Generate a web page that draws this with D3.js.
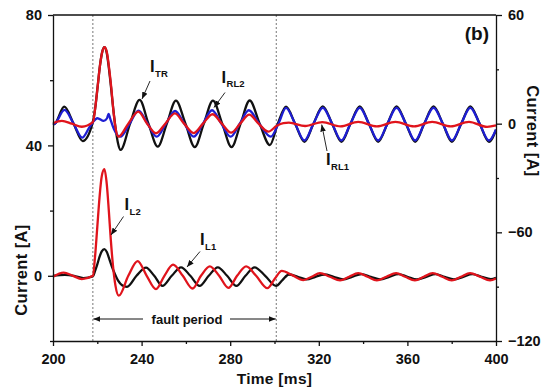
<!DOCTYPE html>
<html><head><meta charset="utf-8">
<script src="https://cdn.jsdelivr.net/npm/d3@7"></script>
<style>
body{margin:0;background:#fff}
text{font-family:"Liberation Sans",Arial,sans-serif;font-weight:bold;fill:#111}
</style>
</head><body><svg id="c" width="547" height="389"></svg>
<script>
// ---------- axis ticks ----------
const xTicks = [200, 240, 280, 320, 360, 400];
const xMinor = [220, 260, 300, 340, 380];
const leftTicks = [0, 40, 80];
const leftMinor = [-20, 20, 60];
const rightTicks = [-120, -60, 0, 60];
const rightMinor = [-90, -30, 30];
const faultBounds = [218, 300.8];

// ---------- upper group (right axis) : [time ms, current A] ----------
const iTR = [[200,-0.6],[200.9,0],[205.1,9.4],[209.3,0],[213.4,-9.6],[218,1],[219.2,10],[220.2,21],[221.2,32],[222.2,39.5],[223.2,42.2],[224.2,39.5],[225.2,31],[226.2,20],[227.3,7],[228.3,-3],[229.3,-10.5],[230.5,-14.5],[234.8,0],[239.1,13.1],[243.1,0],[247.3,-12.7],[251.4,0],[255.5,12.7],[259.8,0],[264,-12.9],[268.1,0],[272.2,12.7],[276.4,0],[280.6,-12.9],[284.7,0],[288.8,12.8],[293.3,0],[297.9,-11.8],[301.5,0],[305.2,9.4],[309.3,0],[313.5,-10],[317.6,0],[321.8,9.5],[326,0],[330.2,-10],[334.3,0],[338.5,9.5],[342.6,0],[346.8,-10],[351,0],[355.1,9.5],[359.3,0],[363.5,-10],[367.6,0],[371.8,9.5],[376,0],[380.1,-10],[384.3,0],[388.4,9.5],[392.6,0],[396.8,-10],[400,-3.5]];
const iRL2 = [[200,-0.6],[200.9,0],[205.2,7.6],[209.3,0],[213.2,-7.7],[216.2,-2.5],[218,0.8],[220,3.0],[222.9,1.5],[224.4,3],[225.1,5.4],[225.9,2.5],[227.5,-3],[230.4,-7.2],[234.6,0],[238.6,7.2],[242.7,0],[246.8,-7.2],[251,0],[255.1,7.0],[259.3,0],[263.5,-7.2],[267.7,0],[271.8,7.4],[276,0],[280.2,-7.2],[284.3,0],[288.4,7.4],[293.1,0],[298.3,-7.2],[301.8,0],[305.2,8.7],[309.3,0],[313.5,-9.3],[317.6,0],[321.8,8.8],[326,0],[330.2,-9.3],[334.3,0],[338.5,8.8],[342.6,0],[346.8,-9.3],[351,0],[355.1,8.8],[359.3,0],[363.5,-9.3],[367.6,0],[371.8,8.8],[376,0],[380.1,-9.3],[384.3,0],[388.4,8.8],[392.6,0],[396.8,-9.3],[400,-3.2]];
const iRL1 = [[200,0.2],[204,1.5],[208.5,0],[213,-1.7],[218,0.8],[219.2,10],[220.2,21],[221.2,32],[222.2,39.5],[223.3,42.2],[224.3,39.5],[225.3,31],[226.3,20],[227.2,8],[228.2,-2],[229.5,-7.2],[234,0],[238.5,6.6],[242.5,0],[246.5,-5.3],[250.7,0],[255,5.7],[259.2,0],[263.5,-5.2],[267.7,0],[272,5.2],[276.2,0],[280.4,-5],[284.5,0],[288.6,5],[292.8,0],[297.2,-4.4],[301,-1.2],[304,0.3],[306.5,0.6],[313.8,-1.3],[321.6,0.9],[329.8,-1.5],[337.8,1.0],[346.2,-1.5],[354.6,1.0],[363,-1.5],[371.2,1.0],[379.6,-1.5],[387.8,1.0],[396,-1.8],[400,-1]];

// ---------- lower group (left axis) ----------
const iL1 = [[200,0],[205.4,0.3],[209.5,0],[213.7,-0.7],[218,-0.2],[219,1.5],[220,3.5],[221,5.8],[222,7.5],[223.2,8.2],[224.3,7.3],[225.4,5.2],[226.5,3],[227.8,0.8],[229.4,-1.5],[231.2,-2.9],[233.4,-3.4],[237.7,0],[242,2.5],[245.7,0],[249.4,-3.1],[253.6,0],[257.8,2.6],[262,0],[266.2,-3.1],[270.3,0],[274.4,2.6],[278.6,0],[282.8,-3.1],[286.9,0],[291,2.6],[295.8,0],[300.7,-3.1],[303.6,-1.3],[306.5,0.4],[310.5,-0.3],[314.5,-1.1],[318.5,-0.3],[322.5,0.4],[326.7,-0.3],[331,-1.1],[335,-0.3],[339.3,0.5],[343.5,-0.3],[347.7,-1.1],[351.8,-0.3],[356,0.5],[360,-0.3],[364.3,-1.1],[368.5,-0.3],[372.7,0.5],[376.8,-0.3],[381,-1.1],[385.2,-0.3],[389.3,0.5],[393.5,-0.3],[397.7,-1.0],[400,-0.6]];
const iL2 = [[200,-0.3],[204.8,1.0],[209,0],[213,-1.0],[218,0],[219,6],[220,15],[221,24],[222,30.5],[223.2,32.7],[224.3,28],[225.2,20],[226.1,11],[227.1,3],[228.2,-3],[229.7,-6.1],[234,0],[238.2,4.5],[242.3,0],[246.5,-4.1],[250.3,0],[254.2,3.4],[258.6,0],[263,-3.9],[266.8,0],[270.8,2.9],[275,0],[279.2,-3.7],[283.1,0],[287.2,2.9],[291.7,0],[296.8,-3.8],[300.2,-0.8],[303.3,1.5],[308,0.2],[313,-1.3],[316.8,-0.3],[320.5,0.8],[325,-0.3],[329.6,-1.4],[333.7,-0.3],[337.8,0.8],[342,-0.3],[346.2,-1.4],[350.5,-0.3],[354.9,0.8],[359,-0.3],[363.4,-1.4],[367.4,-0.3],[371.4,0.8],[375.7,-0.3],[380,-1.4],[384.2,-0.3],[388.3,0.8],[392.8,-0.3],[397.3,-1.4],[400,-0.8]];

// ---------- drawing ----------
const svg = d3.select("#c");
const L = 53, R = 496, T = 15, B = 341;
const x = d3.scaleLinear().domain([200, 400]).range([L, R]);
const yL = d3.scaleLinear().domain([-20, 80]).range([B, T]);
const yR = d3.scaleLinear().domain([-120, 60]).range([B, T]);

const RED = "#e0141c", BLUE = "#1e1ed2", BLACK = "#111";

// dashed fault boundaries
svg.selectAll(".fb").data(faultBounds).join("line")
  .attr("x1", d => x(d)).attr("x2", d => x(d)).attr("y1", T).attr("y2", B)
  .attr("stroke", "#555").attr("stroke-width", 0.8).attr("stroke-dasharray", "2,2");

function drawLine(data, ys, color) {
  const line = d3.line().x(d => x(d[0])).y(d => ys(d[1])).curve(d3.curveMonotoneX);
  svg.append("path").datum(data).attr("d", line)
    .attr("fill", "none").attr("stroke", color).attr("stroke-width", 2.3)
    .attr("stroke-linejoin", "round");
}
drawLine(iTR, yR, BLACK);
drawLine(iRL2, yR, BLUE);
drawLine(iRL1, yR, RED);
drawLine(iL1, yL, BLACK);
drawLine(iL2, yL, RED);

// axes
function styleAxis(g) {
  g.selectAll("path,line").attr("stroke", "#111").attr("stroke-width", 1.3);
  g.selectAll("text").style("font-size", "14.5px").style("font-family", "'Liberation Sans',Arial,sans-serif").style("font-weight", "bold").attr("fill", "#111");
}
const gx = svg.append("g").attr("transform", `translate(0,${B})`)
  .call(d3.axisBottom(x).tickValues(xTicks).tickSize(5).tickSizeOuter(0).tickPadding(8).tickFormat(d3.format("d")));
styleAxis(gx);
const gxm = svg.append("g").attr("transform", `translate(0,${B})`)
  .call(d3.axisBottom(x).tickValues(xMinor).tickSize(3).tickSizeOuter(0).tickFormat(""));
styleAxis(gxm); gxm.select("path").remove();

const gl = svg.append("g").attr("transform", `translate(${L},0)`)
  .call(d3.axisLeft(yL).tickValues(leftTicks).tickSize(5).tickSizeOuter(0).tickPadding(6));
styleAxis(gl);
const glm = svg.append("g").attr("transform", `translate(${L},0)`)
  .call(d3.axisLeft(yL).tickValues(leftMinor).tickSize(3).tickSizeOuter(0).tickFormat(""));
styleAxis(glm); glm.select("path").remove();

const gr = svg.append("g").attr("transform", `translate(${R},0)`)
  .call(d3.axisRight(yR).tickValues(rightTicks).tickSize(6).tickSizeOuter(0).tickPadding(6));
styleAxis(gr);
const grm = svg.append("g").attr("transform", `translate(${R},0)`)
  .call(d3.axisRight(yR).tickValues(rightMinor).tickSize(3).tickSizeOuter(0).tickFormat(""));
styleAxis(grm); grm.select("path").remove();

// top frame
svg.append("line").attr("x1", L).attr("x2", R).attr("y1", T).attr("y2", T)
  .attr("stroke", "#111").attr("stroke-width", 1.3);

// axis titles
svg.append("text").attr("x", (L + R) / 2).attr("y", 384).attr("text-anchor", "middle")
  .style("font-size", "15.5px").style("letter-spacing", "0.3px").text("Time [ms]");
svg.append("text").attr("transform", "translate(27,270) rotate(-90)").attr("text-anchor", "middle")
  .style("font-size", "16.5px").style("letter-spacing", "0.4px").text("Current [A]");
svg.append("text").attr("transform", "translate(527,131) rotate(90)").attr("text-anchor", "middle")
  .style("font-size", "16.5px").style("letter-spacing", "0.4px").text("Current [A]");

// panel tag
svg.append("text").attr("x", 489).attr("y", 40).attr("text-anchor", "end")
  .style("font-size", "19px").text("(b)");

// arrow marker
const defs = svg.append("defs");
defs.append("marker").attr("id", "ah").attr("viewBox", "0 0 10 10").attr("refX", 10).attr("refY", 5)
  .attr("markerWidth", 7).attr("markerHeight", 7).attr("markerUnits", "userSpaceOnUse").attr("orient", "auto")
  .append("path").attr("d", "M0,1 L10,5 L0,9 Z").attr("fill", "#111");

// series labels
const labels = [
  {main: "I", sub: "TR", x: 150, y: 72, ax1: 150, ay1: 81, ax2: 142, ay2: 99},
  {main: "I", sub: "RL2", x: 221.5, y: 82.5, ax1: 225, ay1: 92.5, ax2: 214, ay2: 107.5},
  {main: "I", sub: "RL1", x: 326, y: 165, ax1: 327, ay1: 151, ax2: 321.7, ay2: 124.5},
  {main: "I", sub: "L2", x: 124.5, y: 210, ax1: 123.5, ay1: 216.5, ax2: 111, ay2: 235},
  {main: "I", sub: "L1", x: 200, y: 245, ax1: 200, ay1: 251.5, ax2: 187, ay2: 267}
];
labels.forEach(l => {
  const t = svg.append("text").attr("x", l.x).attr("y", l.y).style("font-size", "16.5px");
  t.append("tspan").text(l.main);
  t.append("tspan").attr("dy", 4.5).attr("dx", 0.5).style("font-size", "9.5px").text(l.sub);
  svg.append("line").attr("x1", l.ax1).attr("y1", l.ay1).attr("x2", l.ax2).attr("y2", l.ay2)
    .attr("stroke", "#111").attr("stroke-width", 0.9).attr("marker-end", "url(#ah)");
});

// fault period annotation
const fy = 319;
svg.append("line").attr("x1", 143).attr("x2", x(faultBounds[0]) + 0.5).attr("y1", fy).attr("y2", fy)
  .attr("stroke", "#111").attr("stroke-width", 1).attr("marker-end", "url(#ah)");
svg.append("line").attr("x1", 230).attr("x2", x(faultBounds[1]) - 0.5).attr("y1", fy).attr("y2", fy)
  .attr("stroke", "#111").attr("stroke-width", 1).attr("marker-end", "url(#ah)");
svg.append("text").attr("x", 187).attr("y", 323.5).attr("text-anchor", "middle")
  .style("font-size", "13px").text("fault period");
</script>
</body></html>
